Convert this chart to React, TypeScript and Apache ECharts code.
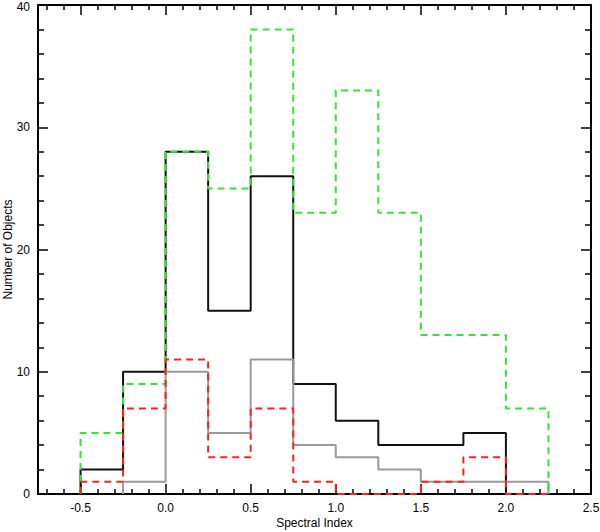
import React, { useEffect, useRef } from "react";
import * as echarts from "echarts";

const binEdges = [-0.5, -0.25, 0.0, 0.25, 0.5, 0.75, 1.0, 1.25, 1.5, 1.75, 2.0, 2.25];
const blackCounts = [2, 10, 28, 15, 26, 9, 6, 4, 4, 5, 0];
const grayCounts = [0, 1, 10, 5, 11, 4, 3, 2, 1, 1, 1];
const greenCounts = [5, 9, 28, 25, 38, 23, 33, 23, 13, 13, 7];
const redCounts = [1, 7, 11, 3, 7, 1, 0, 0, 1, 3, 0];

const xMajorTicks = [-0.5, 0.0, 0.5, 1.0, 1.5, 2.0, 2.5];
const xMinorTicks = [
  -0.7, -0.6, -0.4, -0.3, -0.2, -0.1, 0.1, 0.2, 0.3, 0.4, 0.6, 0.7, 0.8, 0.9,
  1.1, 1.2, 1.3, 1.4, 1.6, 1.7, 1.8, 1.9, 2.1, 2.2, 2.3, 2.4,
];

function stepPoints(counts: number[], skipLeadingZero = true): number[][] {
  const pts: number[][] = [];
  let start = 0;
  if (skipLeadingZero) {
    while (start < counts.length && counts[start] === 0) start++;
  }
  pts.push([binEdges[start], 0]);
  for (let i = start; i < counts.length; i++) {
    pts.push([binEdges[i], counts[i]]);
  }
  pts.push([binEdges[counts.length], 0]);
  return pts;
}

const FONT = "Liberation Sans";
const Y_MAX = 40;

export default function App() {
  const ref = useRef<HTMLDivElement>(null);
  useEffect(() => {
    document.body.style.margin = "0";
    const chart = echarts.init(ref.current!, null, { renderer: "svg" });
    const xBase = {
      type: "value" as const,
      min: -0.75,
      max: 2.5,
      splitLine: { show: false },
    };
    const yBase = {
      type: "value" as const,
      min: 0,
      max: Y_MAX,
      interval: 10,
      splitLine: { show: false },
    };
    const mkSeries = (name: string, counts: number[], color: string, dashed: boolean, width: number) => ({
      name,
      type: "line" as const,
      step: "end" as const,
      symbol: "none",
      xAxisIndex: 0,
      yAxisIndex: 0,
      data: stepPoints(counts),
      lineStyle: {
        color,
        width,
        type: dashed ? [7, 5] : "solid",
      },
      silent: true,
    });
    chart.setOption({
      animation: false,
      backgroundColor: "#ffffff",
      grid: { left: 38, right: 9, top: 5, bottom: 38, containLabel: false, outerBoundsMode: "none" },
      xAxis: [
        {
          ...xBase,
          position: "bottom",
          name: "Spectral Index",
          nameLocation: "middle",
          nameGap: 23,
          nameMoveOverlap: false,
          nameTextStyle: { fontFamily: FONT, fontSize: 12, color: "#000" },
          axisLine: { show: true, onZero: false, lineStyle: { color: "#000", width: 2 } },
          axisTick: { show: true, inside: true, length: 10, customValues: xMajorTicks, lineStyle: { color: "#000", width: 1.5 } },
          axisLabel: {
            show: true,
            customValues: xMajorTicks,
            formatter: (v: number) => v.toFixed(1),
            fontFamily: FONT,
            fontSize: 12,
            color: "#000",
            margin: 8,
          },
        },
        {
          ...xBase,
          position: "bottom",
          axisLine: { show: false, onZero: false },
          axisTick: { show: true, inside: true, length: 5, customValues: xMinorTicks, lineStyle: { color: "#000", width: 1.5 } },
          axisLabel: { show: false },
        },
        {
          ...xBase,
          position: "top",
          axisLine: { show: true, onZero: false, lineStyle: { color: "#000", width: 2 } },
          axisTick: { show: true, inside: true, length: 10, customValues: xMajorTicks, lineStyle: { color: "#000", width: 1.5 } },
          axisLabel: { show: false },
        },
        {
          ...xBase,
          position: "top",
          axisLine: { show: false, onZero: false },
          axisTick: { show: true, inside: true, length: 5, customValues: xMinorTicks, lineStyle: { color: "#000", width: 1.5 } },
          axisLabel: { show: false },
        },
      ],
      yAxis: [
        {
          ...yBase,
          position: "left",
          name: "Number of Objects",
          nameLocation: "middle",
          nameGap: 24,
          nameMoveOverlap: false,
          nameTextStyle: { fontFamily: FONT, fontSize: 12, color: "#000" },
          axisLine: { show: true, onZero: false, lineStyle: { color: "#000", width: 2 } },
          axisTick: { show: true, inside: true, length: 10, lineStyle: { color: "#000", width: 1.5 } },
          minorTick: { show: true, splitNumber: 5, length: 6, lineStyle: { color: "#000", width: 1.5 } },
          axisLabel: {
            fontFamily: FONT,
            fontSize: 12,
            color: "#000",
            margin: 8,
            formatter: (v: number) => (v === Y_MAX ? `{top|${v}}` : `${v}`),
            rich: {
              top: { fontFamily: FONT, fontSize: 12, color: "#000", padding: [4, 0, 0, 0] },
            },
          },
        },
        {
          ...yBase,
          position: "right",
          axisLine: { show: true, onZero: false, lineStyle: { color: "#000", width: 2 } },
          axisTick: { show: true, inside: true, length: 10, lineStyle: { color: "#000", width: 1.5 } },
          minorTick: { show: true, splitNumber: 5, length: 6, lineStyle: { color: "#000", width: 1.5 } },
          axisLabel: { show: false },
        },
      ],
      series: [
        mkSeries("All", blackCounts, "#111111", false, 2),
        mkSeries("Gray", grayCounts, "#9a9a9a", false, 2),
        mkSeries("Green", greenCounts, "#33e633", true, 2),
        mkSeries("Red", redCounts, "#ff2020", true, 2),
      ],
    });
    return () => chart.dispose();
  }, []);
  return <div ref={ref} style={{ width: 600, height: 532 }} />;
}
